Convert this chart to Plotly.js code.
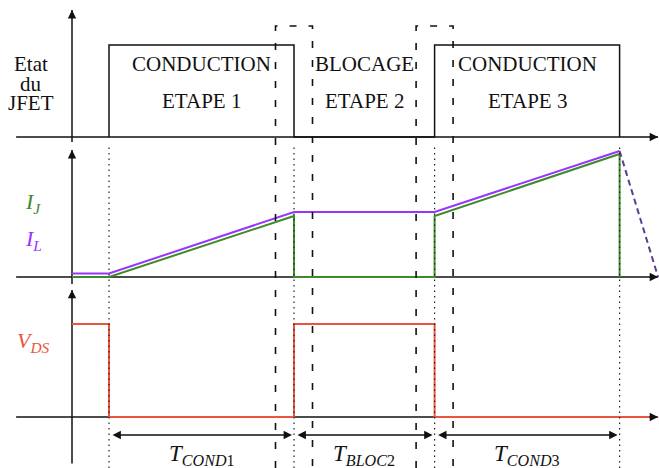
<!DOCTYPE html>
<html><head><meta charset="utf-8">
<script src="https://cdn.plot.ly/plotly-3.0.1.min.js"></script>
<style>html,body{margin:0;padding:0;background:#fff;}#chart{width:659px;height:468px;}</style>
</head><body><div id="chart"></div>
<script>
// ---- data (time in arbitrary units, t=0 at the vertical axes) ----
const eventTimes = [1.0, 6.0, 9.8, 14.8];          // t1 .. t4 (switching instants)
const deadStart = [5.5, 9.3];                        // dashed dead-time windows
const deadEnd = [6.5, 10.3];
const stageTop = ['CONDUCTION', 'BLOCAGE', 'CONDUCTION'];
const stageBottom = ['ETAPE 1', 'ETAPE 2', 'ETAPE 3'];
const durationLabels = ['<i>T</i><sub><i>COND</i>1</sub>', '<i>T</i><sub><i>BLOC</i>2</sub>', '<i>T</i><sub><i>COND</i>3</sub>'];
// JFET state (1 = conduction)
const stateT = [1.0, 1.0, 6.0, 9.8, 14.8];
const stateV = [0, 1, 0, 1, 0];
// inductor current I_L
const iLT = [0, 1.0, 6.0, 9.8, 14.8];
const iLV = [0.35, 0.35, 6.5, 6.5, 12.6];
const iLFallT = [14.8, 15.84];
const iLFallV = [12.6, 0];
// JFET current I_J
const iJT = [0, 1.0, 6.0, 6.0, 9.8, 9.8, 14.8, 14.8];
const iJV = [0, 0, 6.1, 0, 0, 6.1, 12.3, 0];
// drain-source voltage V_DS
const vdsT = [0, 1.0, 1.0, 6.0, 6.0, 9.8, 9.8, 15.84];
const vdsV = [1, 1, 0, 0, 1, 1, 0, 0];
// axis extents
const timeAxis = [-1.51, 15.84];
const stateAxis = [-0.11, 1.38];
const currentAxis = [-1.2, 12.7];
const voltageAxis = [-0.5, 1.366];

const SERIF = 'Liberation Serif';
const BLACK = '#111111';
const GREEN = '#3d8b2a';
const PURPLE = '#9933ff';
const RED = '#ea5440';

function line(x, y, ya, color, width, extra) {
  return Object.assign({x: x, y: y, xaxis: 'x', yaxis: ya, mode: 'lines', hoverinfo: 'skip',
    line: {color: color, width: width}}, extra || {});
}
const traces = [
  // axes
  line(timeAxis, [0, 0], 'y3', BLACK, 1.5),
  line([0, 0], stateAxis, 'y3', BLACK, 1.5),
  line(timeAxis, [0, 0], 'y2', BLACK, 1.5),
  line([0, 0], currentAxis, 'y2', BLACK, 1.5),
  line(timeAxis, [0, 0], 'y', BLACK, 1.5),
  line([0, 0], voltageAxis, 'y', BLACK, 1.5),
  // signals
  line(stateT, stateV, 'y3', BLACK, 1.5, {line: {color: BLACK, width: 1.5, shape: 'hv'}}),
  line(iLT, iLV, 'y2', PURPLE, 2),
  line(iJT, iJV, 'y2', GREEN, 2),
  line(iLFallT, iLFallV, 'y2', '#5b3d8f', 2, {line: {color: '#5b3d8f', width: 2, dash: '6px,4px'}}),
  line(vdsT, vdsV, 'y', RED, 2)
];

const shapes = [];
eventTimes.forEach(t => shapes.push({type: 'line', xref: 'x', yref: 'paper', x0: t, x1: t, y0: 0, y1: 0.69,
  layer: 'above', line: {color: '#222', width: 1.2, dash: '1.5px,4px'}}));
deadStart.forEach((s, i) => {
  const e = deadEnd[i];
  shapes.push({type: 'path', xref: 'x', yref: 'paper', layer: 'above',
    path: `M ${s},0 L ${s},0.9444 L ${e},0.9444 L ${e},0`,
    line: {color: '#111', width: 1.6, dash: '7px,12px'}});
});

const ann = [];
function arrowHead(x, y, ya, ax, ay) {
  ann.push({x: x, y: y, xref: 'x', yref: ya, ax: ax, ay: ay, axref: 'pixel', ayref: 'pixel', text: '',
    showarrow: true, arrowhead: 2, arrowsize: 1.2, arrowwidth: 1.4, arrowcolor: BLACK});
}
arrowHead(timeAxis[1], 0, 'y3', -10, 0);
arrowHead(0, stateAxis[1], 'y3', 0, 10);
arrowHead(timeAxis[1], 0, 'y2', -10, 0);
arrowHead(0, currentAxis[1], 'y2', 0, 10);
arrowHead(timeAxis[1], 0, 'y', -10, 0);
arrowHead(0, voltageAxis[1], 'y', 0, 10);

function txt(x, y, ya, text, color, size) {
  ann.push({x: x, y: y, xref: 'x', yref: ya, text: text, showarrow: false,
    font: {family: SERIF, size: size || 21, color: color || BLACK}, xanchor: 'center', yanchor: 'middle'});
}
// labels of the state panel
txt(-1.11, 0.79, 'y3', 'Etat');
txt(-1.11, 0.58, 'y3', 'du');
txt(-1.11, 0.365, 'y3', 'JFET');
for (let i = 0; i < 3; i++) {
  const mid = (eventTimes[i] + eventTimes[i + 1]) / 2;
  txt(mid, 0.793, 'y3', stageTop[i], BLACK, 21);
  txt(mid, 0.391, 'y3', stageBottom[i], BLACK, 21);
  // duration arrows
  ann.push({x: eventTimes[i + 1], y: -0.1935, xref: 'x', yref: 'y', ax: eventTimes[i], ay: -0.1935,
    axref: 'x', ayref: 'y', text: '', showarrow: true, arrowside: 'end+start', arrowhead: 2, startarrowhead: 2,
    arrowsize: 1.2, startarrowsize: 1.2, arrowwidth: 1.4, arrowcolor: BLACK, standoff: 2, startstandoff: 2});
  txt(mid, -0.41, 'y', durationLabels[i], BLACK, 23);
}
txt(-1.05, 7.4, 'y2', '<i>I</i><sub><i>J</i></sub>', GREEN, 22);
txt(-1.05, 3.7, 'y2', '<i>I</i><sub><i>L</i></sub>', PURPLE, 22);
txt(-1.05, 0.806, 'y', '<i>V</i><sub><i>DS</i></sub>', RED, 22);

const hidden = {visible: false, fixedrange: true};
const layout = {
  width: 659, height: 468, margin: {l: 0, r: 0, t: 0, b: 0},
  font: {family: SERIF},
  paper_bgcolor: '#fff', plot_bgcolor: '#fff', showlegend: false,
  xaxis: Object.assign({range: [-1.946, 15.865]}, hidden),
  yaxis: Object.assign({domain: [0, 0.3932], range: [-0.548, 1.430], anchor: 'x'}, hidden),
  yaxis2: Object.assign({domain: [0.3932, 0.6966], range: [-0.7, 13.5], anchor: 'x'}, hidden),
  yaxis3: Object.assign({domain: [0.6966, 1], range: [-0.0543, 1.489], anchor: 'x'}, hidden),
  shapes: shapes, annotations: ann
};
Plotly.newPlot('chart', traces, layout, {staticPlot: true, displayModeBar: false});
</script></body></html>
